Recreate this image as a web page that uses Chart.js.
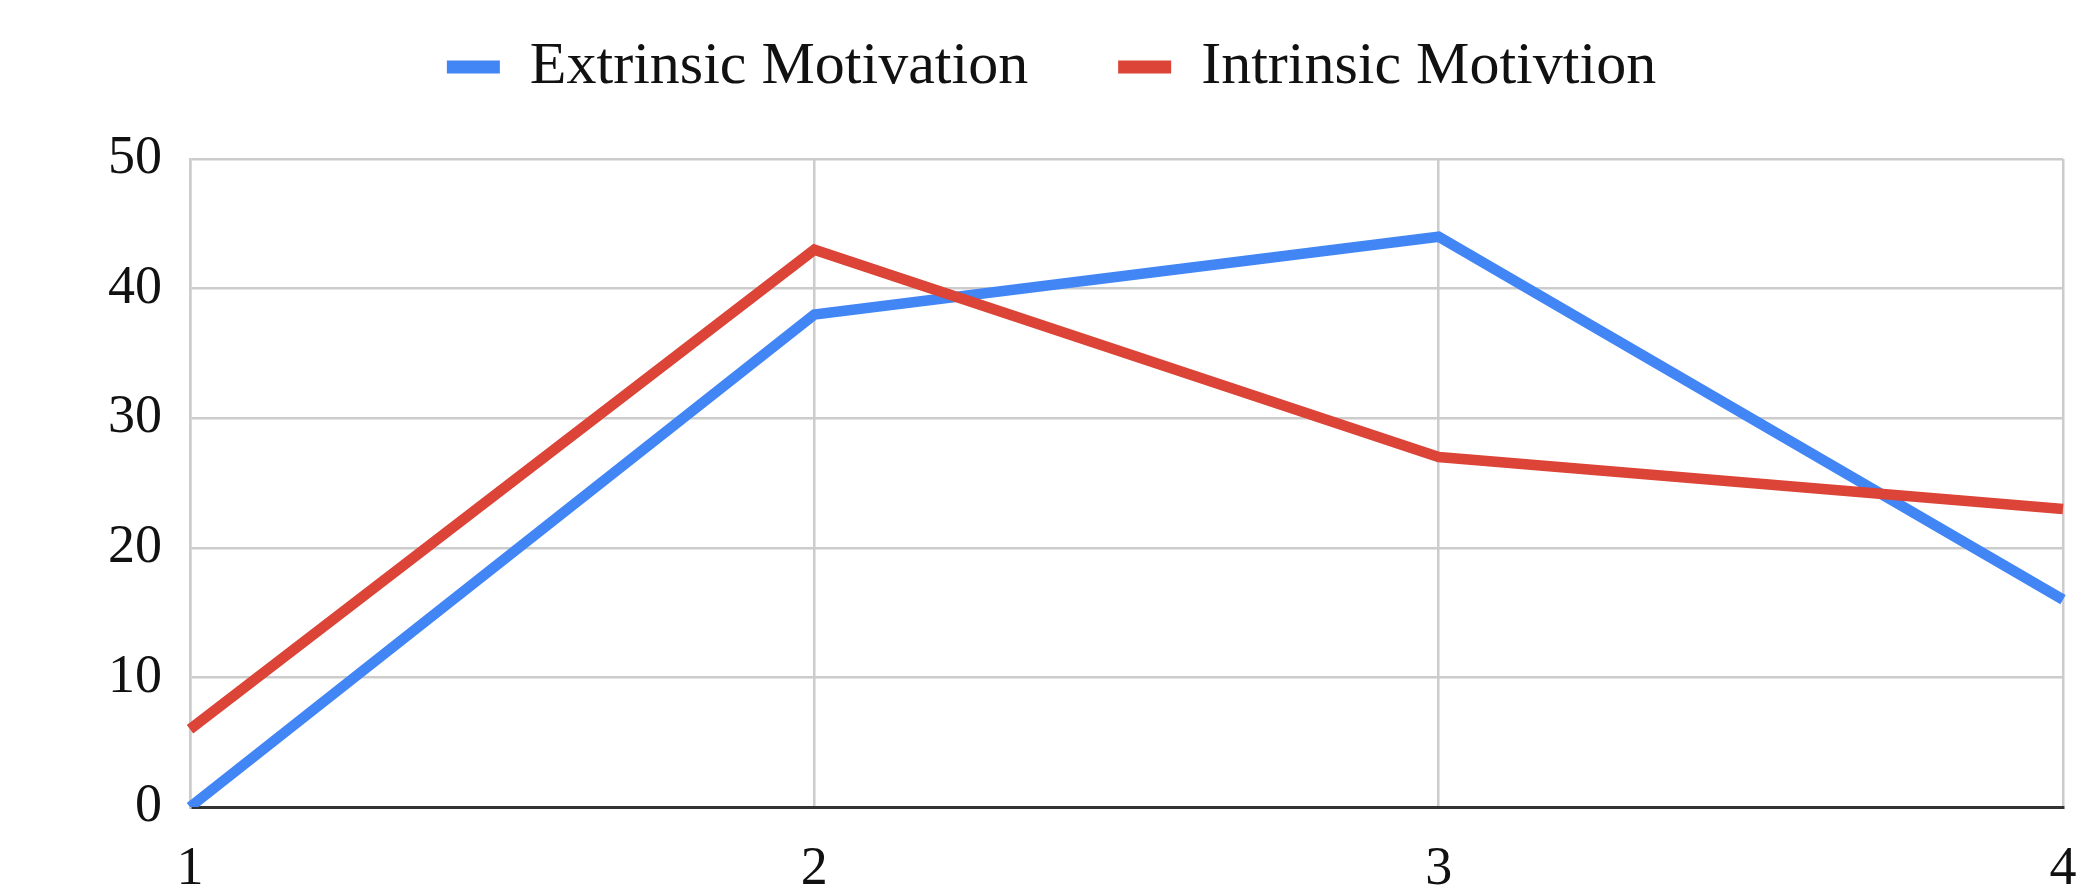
<!DOCTYPE html>
<html><head><meta charset="utf-8">
<script src="https://cdn.jsdelivr.net/npm/chart.js@4"></script>
<style>html,body{margin:0;padding:0;background:#fff;overflow:hidden}#wrap{width:2084px;height:886px;position:relative}</style>
</head><body><div id="wrap"><canvas id="c" width="2084" height="886"></canvas></div>
<script>
const categories = ['1', '2', '3', '4'];
const extrinsicValues = [0, 38, 44, 16];
const intrinsicValues = [6, 43, 27, 23];
const seriesNames = ['Extrinsic Motivation', 'Intrinsic Motivtion'];
const yMin = 0, yMax = 50, yStep = 10;

const BLUE = '#4285F4';
const RED = '#DB4437';
const FONT = "'Liberation Serif', 'Times New Roman', serif";

const layoutTweak = {
  id: 'layoutTweak',
  beforeLayout(chart) {
    const lg = chart.legend;
    if (lg && !lg._patched) {
      const fit = lg.fit;
      lg.fit = function () { fit.call(this); this.height = 159; };
      lg._patched = true;
    }
  },
  afterLayout(chart) {
    const lg = chart.legend;
    if (lg) { lg.top -= 53; lg.bottom -= 53; lg.left += 20; lg.right += 20; }
  }
};

new Chart(document.getElementById('c'), {
  type: 'line',
  data: {
    labels: categories,
    datasets: [
      { label: seriesNames[0], data: extrinsicValues, borderColor: BLUE, backgroundColor: BLUE,
        borderWidth: 10.5, pointRadius: 0, pointHoverRadius: 0, tension: 0, order: 1, fill: false },
      { label: seriesNames[1], data: intrinsicValues, borderColor: RED, backgroundColor: RED,
        borderWidth: 10.5, pointRadius: 0, pointHoverRadius: 0, tension: 0, order: 0, fill: false }
    ]
  },
  options: {
    responsive: false,
    animation: false,
    devicePixelRatio: 1,
    layout: { padding: { left: 0, right: 21, top: 0, bottom: 0 } },
    plugins: {
      tooltip: { enabled: false },
      legend: {
        display: true,
        position: 'top',
        align: 'center',
        labels: {
          boxWidth: 53,
          boxHeight: 13,
          padding: 90,
          color: '#111',
          font: { family: FONT, size: 60 },
          sort: (a, b) => a.datasetIndex - b.datasetIndex,
          generateLabels: (chart) => Chart.defaults.plugins.legend.labels.generateLabels(chart)
            .map(l => Object.assign(l, { lineWidth: 0 }))
        }
      }
    },
    scales: {
      x: {
        type: 'category',
        offset: false,
        grid: { color: '#cccccc', lineWidth: 2.5, drawTicks: false },
        border: { display: true, color: '#333333', width: 3 },
        ticks: { color: '#111', font: { family: FONT, size: 54 }, padding: 30, maxRotation: 0, autoSkip: false },
        afterFit: (s) => { s.height = 79; s.paddingLeft = 0; s.paddingRight = 0; }
      },
      y: {
        min: yMin,
        max: yMax,
        grid: {
          color: (ctx) => (ctx.tick && ctx.tick.value === 0 ? '#333333' : '#cccccc'),
          lineWidth: (ctx) => (ctx.tick && ctx.tick.value === 0 ? 3 : 2.5),
          drawTicks: false
        },
        border: { display: true, color: '#cccccc', width: 2.5 },
        ticks: { stepSize: yStep, color: '#111', font: { family: FONT, size: 54 }, padding: 28 },
        afterFit: (s) => { s.width = 190; }
      }
    }
  },
  plugins: [layoutTweak]
});
</script>
</body></html>
